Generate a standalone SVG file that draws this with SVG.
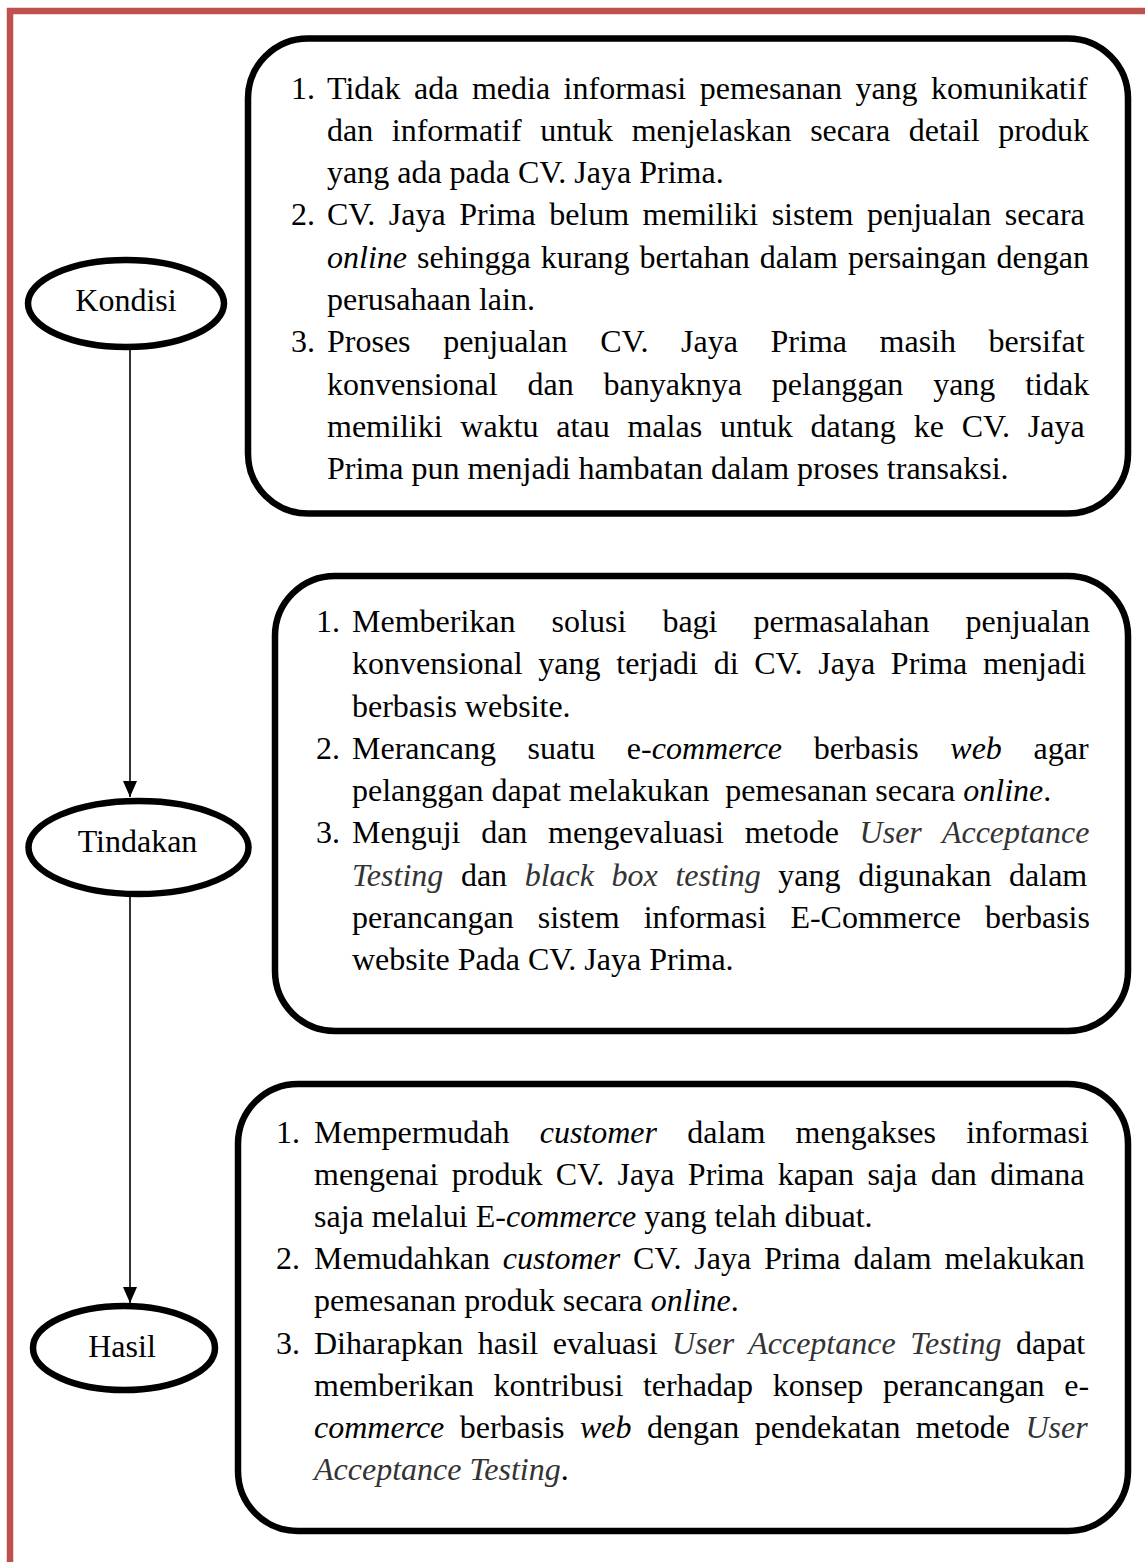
<svg xmlns="http://www.w3.org/2000/svg" width="1145" height="1562" viewBox="0 0 1145 1562">
<style>
.t{font-family:"Liberation Serif","Times New Roman",serif;font-size:32px;fill:#000}
.it{font-style:italic}
.itg{font-style:italic;fill:#333}
.box{fill:#fff;stroke:#000;stroke-width:6.5}
.ell{fill:#fff;stroke:#000;stroke-width:6.5}
.lbl{font-family:"Liberation Serif","Times New Roman",serif;font-size:32px;fill:#000;text-anchor:middle}
.conn{stroke:#000;stroke-width:1.6;fill:none}
</style>
<defs>
<marker id="arr" markerWidth="16" markerHeight="14" refX="16" refY="7" orient="auto" markerUnits="userSpaceOnUse">
<path d="M0,0 L16,7 L0,14 Z" fill="#000"/>
</marker>
</defs>
<rect width="1145" height="1562" fill="#fff"/>
<g id="page-border" stroke="#C0504D" stroke-width="6.5" fill="none">
<line x1="7" y1="11" x2="1145" y2="11"/>
<line x1="10" y1="8" x2="10" y2="1562"/>
</g>
<g id="connectors">
<line class="conn" x1="130" y1="350" x2="130" y2="797" marker-end="url(#arr)"/>
<line class="conn" x1="130" y1="897" x2="130" y2="1303" marker-end="url(#arr)"/>
</g>
<g id="kondisi">
<ellipse class="ell" cx="126" cy="303.5" rx="98" ry="43.5"/>
<text class="lbl" x="126" y="311">Kondisi</text>
</g>
<g id="tindakan">
<ellipse class="ell" cx="138.5" cy="847.5" rx="110" ry="46.5"/>
<text class="lbl" x="137.5" y="852">Tindakan</text>
</g>
<g id="hasil">
<ellipse class="ell" cx="124" cy="1348" rx="91" ry="42"/>
<text class="lbl" x="122" y="1357">Hasil</text>
</g>
<g id="box-kondisi">
<rect class="box" x="248" y="38.5" width="880" height="475" rx="60" ry="60"/>
<text class="t" x="291" y="98.5">1.</text>
<text class="t" x="327" y="98.5" word-spacing="5.5">Tidak ada media informasi pemesanan yang komunikatif</text>
<text class="t" x="327" y="140.8" word-spacing="10.6">dan informatif untuk menjelaskan secara detail produk</text>
<text class="t" x="327" y="183.1">yang ada pada CV. Jaya Prima.</text>
<text class="t" x="291" y="225.4">2.</text>
<text class="t" x="327" y="225.4" word-spacing="5.5">CV. Jaya Prima belum memiliki sistem penjualan secara</text>
<text class="t" x="327" y="267.7" word-spacing="2"><tspan class="it">online</tspan> sehingga kurang bertahan dalam persaingan dengan</text>
<text class="t" x="327" y="310">perusahaan lain.</text>
<text class="t" x="291" y="352.3">3.</text>
<text class="t" x="327" y="352.3" word-spacing="24.6">Proses penjualan CV. Jaya Prima masih bersifat</text>
<text class="t" x="327" y="394.6" word-spacing="21.8">konvensional dan banyaknya pelanggan yang tidak</text>
<text class="t" x="327" y="436.9" word-spacing="9.8">memiliki waktu atau malas untuk datang ke CV. Jaya</text>
<text class="t" x="327" y="479.2">Prima pun menjadi hambatan dalam proses transaksi.</text>
</g>
<g id="box-tindakan">
<rect class="box" x="275" y="576" width="853" height="455" rx="60" ry="60"/>
<text class="t" x="316" y="632">1.</text>
<text class="t" x="352" y="632" word-spacing="28.1">Memberikan solusi bagi permasalahan penjualan</text>
<text class="t" x="352" y="674.3" word-spacing="7.7">konvensional yang terjadi di CV. Jaya Prima menjadi</text>
<text class="t" x="352" y="716.5">berbasis website.</text>
<text class="t" x="316" y="758.8">2.</text>
<text class="t" x="352" y="758.8" word-spacing="23.7">Merancang suatu e-<tspan class="it">commerce</tspan> berbasis <tspan class="it">web</tspan> agar</text>
<text class="t" x="352" y="801">pelanggan dapat melakukan <tspan dx="8">pemesanan secara </tspan><tspan class="it">online</tspan>.</text>
<text class="t" x="316" y="843.3">3.</text>
<text class="t" x="352" y="843.3" word-spacing="12.7">Menguji dan mengevaluasi metode <tspan class="itg">User Acceptance</tspan></text>
<text class="t" x="352" y="885.5" word-spacing="9.6"><tspan class="itg">Testing</tspan> dan <tspan class="itg">black box testing</tspan> yang digunakan dalam</text>
<text class="t" x="352" y="927.8" word-spacing="16.1">perancangan sistem informasi E-Commerce berbasis</text>
<text class="t" x="352" y="970">website Pada CV. Jaya Prima.</text>
</g>
<g id="box-hasil">
<rect class="box" x="238" y="1084" width="890" height="447" rx="60" ry="60"/>
<text class="t" x="276" y="1143">1.</text>
<text class="t" x="314" y="1143" word-spacing="22.2">Mempermudah <tspan class="it">customer</tspan> dalam mengakses informasi</text>
<text class="t" x="314" y="1185.1" word-spacing="5.4">mengenai produk CV. Jaya Prima kapan saja dan dimana</text>
<text class="t" x="314" y="1227.2">saja melalui E-<tspan class="it">commerce</tspan> yang telah dibuat.</text>
<text class="t" x="276" y="1269.3">2.</text>
<text class="t" x="314" y="1269.3" word-spacing="4.9">Memudahkan <tspan class="it">customer</tspan> CV. Jaya Prima dalam melakukan</text>
<text class="t" x="314" y="1311.4">pemesanan produk secara <tspan class="it">online</tspan>.</text>
<text class="t" x="276" y="1353.5">3.</text>
<text class="t" x="314" y="1353.5" word-spacing="6.5">Diharapkan hasil evaluasi <tspan class="itg">User Acceptance Testing</tspan> dapat</text>
<text class="t" x="314" y="1395.6" word-spacing="11.6">memberikan kontribusi terhadap konsep perancangan e-</text>
<text class="t" x="314" y="1437.7" word-spacing="7.4"><tspan class="it">commerce</tspan> berbasis <tspan class="it">web</tspan> dengan pendekatan metode <tspan class="itg">User</tspan></text>
<text class="t" x="314" y="1479.8"><tspan class="itg">Acceptance Testing</tspan>.</text>
</g>
</svg>
